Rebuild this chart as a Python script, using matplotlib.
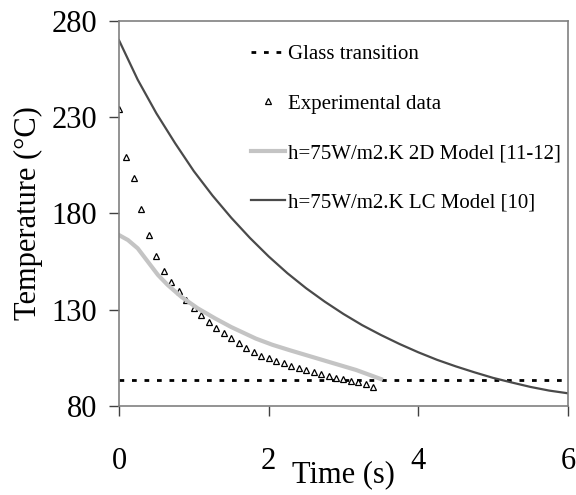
import matplotlib
matplotlib.use('Agg')
import matplotlib.pyplot as plt

plt.rcParams['font.family'] = ['Liberation Serif', 'DejaVu Serif']

# Experimental data (triangles)
exp_t = [0.0, 0.1, 0.2, 0.3, 0.4, 0.5, 0.6, 0.7, 0.8, 0.9, 1.0, 1.1, 1.2, 1.3, 1.4, 1.5, 1.6,
         1.7, 1.8, 1.9, 2.0, 2.1, 2.2, 2.3, 2.4, 2.5, 2.6, 2.7, 2.8, 2.9, 3.0, 3.1, 3.2, 3.3, 3.4]
exp_T = [234.3, 209.5, 198.3, 182.3, 168.7, 158.1, 150.1, 144.4, 139.6, 135.1, 130.7, 127.3,
         123.8, 120.7, 117.8, 115.2, 112.6, 110.3, 107.9, 106.1, 104.8, 103.5, 102.2, 100.9,
         99.9, 98.7, 97.8, 96.6, 95.6, 94.7, 93.9, 93.0, 92.3, 91.4, 90.0]

# 2D model (light grey)
m2d_t = [0.0, 0.12, 0.25, 0.385, 0.52, 0.65, 0.83, 1.05, 1.28, 1.5, 1.83, 2.05, 2.28,
         2.72, 3.17, 3.5]
m2d_T = [168.8, 166.2, 161.9, 155.0, 148.1, 142.9, 136.8, 130.8, 125.6, 121.0, 115.0,
         111.8, 109.0, 103.9, 98.7, 94.0]

# LC model (dark grey)
lc_t = [0.0, 0.25, 0.5, 0.75, 1.0, 1.25, 1.5, 1.75, 2.0, 2.25, 2.5, 2.75, 3.0, 3.25,
        3.5, 3.75, 4.0, 4.25, 4.5, 4.75, 5.0, 5.25, 5.5, 5.75, 6.0]
lc_T = [270.0, 249.5, 232.0, 216.5, 202.0, 189.3, 177.8, 167.3, 157.7, 149.0, 141.2,
        134.2, 127.8, 122.0, 116.9, 112.2, 107.9, 104.0, 100.6, 97.5, 94.6, 92.2, 89.9,
        88.0, 86.6]

glass_T = 93.5

fig = plt.figure(figsize=(5.76, 4.95), dpi=100)
ax = fig.add_axes([0.2066, 0.1798, 0.7794, 0.7778])

ax.plot([0, 6], [glass_T, glass_T], color='black', lw=2, dashes=(1.7, 2.8),
        label='Glass transition')
ax.plot(exp_t, exp_T, ls='none', marker='^', ms=5, mfc='white', mec='black', mew=0.9,
        label='Experimental data')
ax.plot(m2d_t, m2d_T, color='#c4c4c4', lw=3, label='h=75W/m2.K 2D Model [11-12]')
ax.plot(lc_t, lc_T, color='#4a4a4a', lw=1.6, label='h=75W/m2.K LC Model [10]')

ax.set_xlim(0, 6)
ax.set_ylim(80, 280)
ax.set_xticks([0, 2, 4, 6])
ax.set_yticks([80, 130, 180, 230, 280])

for s in ax.spines.values():
    s.set_color('#808080')
    s.set_linewidth(1.2)

ax.tick_params(axis='x', direction='out', length=7.5, width=1, color='#404040',
               labelsize=22, pad=22)
ax.tick_params(axis='y', direction='out', length=7, width=1, color='#404040',
               labelsize=22, pad=9)

ax.set_xlabel('Time (s)', fontsize=22, labelpad=-11)
ax.set_ylabel('Temperature (\u00b0C)', fontsize=22, labelpad=6)

ax.legend(loc='upper left', bbox_to_anchor=(0.262, 0.977), frameon=False, fontsize=15,
          handlelength=1.6, handletextpad=0.15, labelspacing=1.44, numpoints=1,
          borderaxespad=0.3)

fig.savefig('out.png', dpi=100)
